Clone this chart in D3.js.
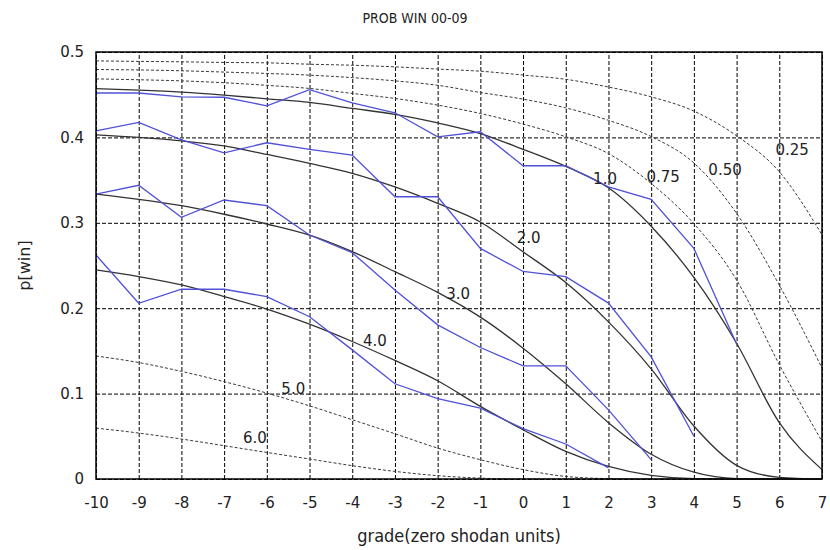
<!DOCTYPE html>
<html>
<head>
<meta charset="utf-8">
<script src="https://cdn.jsdelivr.net/npm/d3@7"></script>
<style>
  body { margin: 0; background: #fff; }
  text { font-family: "DejaVu Sans", sans-serif; fill: #222; }
  .cond { font-family: "DejaVu Sans Condensed", "DejaVu Sans", sans-serif; font-stretch: condensed; }
</style>
</head>
<body>
<div id="chart"></div>
<script>
// grades on the x axis
const grades = [-10, -9, -8, -7, -6, -5, -4, -3, -2, -1, 0, 1, 2, 3, 4, 5, 6, 7];
const yTicks = [0, 0.1, 0.2, 0.3, 0.4, 0.5];

// model curves, read at each grade
const model025 = [0.4896, 0.489, 0.4885, 0.4878, 0.4873, 0.4857, 0.4845, 0.4826, 0.480, 0.4775, 0.473, 0.468, 0.459, 0.4475, 0.4308, 0.4019, 0.3598, 0.286];
const model050 = [0.4795, 0.479, 0.478, 0.4765, 0.4749, 0.4729, 0.470, 0.4662, 0.461, 0.4526, 0.4448, 0.4346, 0.420, 0.401, 0.370, 0.311, 0.227, 0.130];
const model075 = [0.4685, 0.4675, 0.4662, 0.464, 0.461, 0.4573, 0.4515, 0.4456, 0.4378, 0.428, 0.4156, 0.4007, 0.381, 0.346, 0.299, 0.233, 0.134, 0.044];
const model10 = [0.457, 0.4553, 0.453, 0.4495, 0.4452, 0.441, 0.434, 0.427, 0.417, 0.4045, 0.386, 0.366, 0.341, 0.296, 0.236, 0.159, 0.066, 0.011];
const model20 = [0.403, 0.400, 0.396, 0.390, 0.380, 0.3696, 0.358, 0.342, 0.3228, 0.301, 0.266, 0.230, 0.184, 0.129, 0.062, 0.016, 0.002, 0];
const model30 = [0.3337, 0.3275, 0.320, 0.310, 0.2986, 0.2855, 0.2662, 0.2428, 0.2185, 0.1895, 0.1532, 0.1115, 0.066, 0.029, 0.008, 0.0005, 0, 0];
const model40 = [0.2448, 0.237, 0.2272, 0.2136, 0.199, 0.1813, 0.161, 0.1388, 0.115, 0.085, 0.0577, 0.0323, 0.0147, 0.0042, 0.0004, 0, 0, 0];
const model50 = [0.144, 0.1364, 0.126, 0.114, 0.1006, 0.0857, 0.0694, 0.053, 0.0362, 0.0226, 0.011, 0.003, 0.0005, 0, 0, 0, 0, 0];
const model60 = [0.0596, 0.0538, 0.0468, 0.039, 0.0311, 0.0234, 0.0156, 0.0089, 0.0039, 0.001, 0, 0, 0, 0, 0, 0, 0, 0];

// observed win rates (start at grade -10)
const obs10 = [0.452, 0.452, 0.4475, 0.447, 0.437, 0.456, 0.4405, 0.4288, 0.4007, 0.4066, 0.3668, 0.3668, 0.342, 0.3275, 0.270, 0.158];
const obs20 = [0.4077, 0.4175, 0.397, 0.382, 0.3937, 0.386, 0.3793, 0.3305, 0.3305, 0.270, 0.243, 0.237, 0.206, 0.143, 0.050];
const obs30 = [0.3337, 0.3439, 0.3064, 0.3267, 0.320, 0.2857, 0.265, 0.2214, 0.1805, 0.154, 0.1325, 0.1325, 0.081, 0.0226];
const obs40 = [0.2623, 0.2058, 0.2222, 0.2222, 0.2136, 0.190, 0.1512, 0.1115, 0.094, 0.083, 0.059, 0.041, 0.013];

// curve labels: name, grade, value
const curveLabels = [
  ["0.25", 6.3, 0.385], ["0.50", 4.73, 0.362], ["0.75", 3.28, 0.354], ["1.0", 1.92, 0.351],
  ["2.0", 0.13, 0.282], ["3.0", -1.52, 0.217], ["4.0", -3.47, 0.162],
  ["5.0", -5.38, 0.106], ["6.0", -6.28, 0.048]
];

const models = [
  { values: model025, dashed: true }, { values: model050, dashed: true }, { values: model075, dashed: true },
  { values: model10, dashed: false }, { values: model20, dashed: false }, { values: model30, dashed: false },
  { values: model40, dashed: false }, { values: model50, dashed: true }, { values: model60, dashed: true }
];
const observed = [obs10, obs20, obs30, obs40];

const W = 830, H = 550;
const margin = { left: 96, right: 8, top: 52, bottom: 71 };
const w = W - margin.left - margin.right, h = H - margin.top - margin.bottom;

const svg = d3.select('#chart').append('svg')
  .attr('width', W).attr('height', H)
  .attr('xmlns', 'http://www.w3.org/2000/svg');

const x = d3.scaleLinear().domain([-10, 7]).range([0, w]);
const y = d3.scaleLinear().domain([0, 0.5]).range([h, 0]);

const plot = svg.append('g').attr('transform', `translate(${margin.left},${margin.top})`);

// grid + ticks
const xAxis = d3.axisBottom(x).tickValues(grades).tickSize(-h).tickPadding(18).tickFormat(d => String(d));
const yAxis = d3.axisLeft(y).tickValues(yTicks).tickSize(-w).tickPadding(12).tickFormat(d => d === 0 ? '0' : d.toFixed(1));

const gx = plot.append('g').attr('transform', `translate(0,${h})`).call(xAxis);
const gy = plot.append('g').call(yAxis);
[gx, gy].forEach(g => {
  g.select('.domain').remove();
  g.selectAll('line').attr('stroke', '#000').attr('stroke-dasharray', '4,2').attr('stroke-width', 1);
  g.selectAll('text').attr('font-size', 15).attr('fill', '#2a2a2a');
});

// model curves
const line = d3.line().x((d, i) => x(grades[i])).y(d => y(d)).curve(d3.curveMonotoneX);
plot.selectAll('path.model')
  .data(models)
  .enter().append('path')
    .attr('class', 'model')
    .attr('fill', 'none')
    .attr('stroke', d => d.dashed ? '#3a3a3a' : '#333')
    .attr('stroke-width', d => d.dashed ? 1 : 1.3)
    .attr('stroke-dasharray', d => d.dashed ? '3,2' : null)
    .attr('d', d => line(d.values));

// observed lines
const obsLine = d3.line().x((d, i) => x(grades[i])).y(d => y(d));
plot.selectAll('path.obs')
  .data(observed)
  .enter().append('path')
    .attr('class', 'obs')
    .attr('fill', 'none')
    .attr('stroke', '#5050d8')
    .attr('stroke-width', 1.3)
    .attr('d', d => obsLine(d));

// labels on curves
plot.selectAll('text.clabel')
  .data(curveLabels)
  .enter().append('text')
    .attr('class', 'clabel')
    .attr('x', d => x(d[1]))
    .attr('y', d => y(d[2]))
    .attr('dy', '0.35em')
    .attr('text-anchor', 'middle')
    .attr('font-size', 15)
    .text(d => d[0]);

// border
plot.append('rect')
  .attr('width', w).attr('height', h)
  .attr('fill', 'none').attr('stroke', '#000').attr('stroke-width', 1.5);

// titles
svg.append('text')
  .attr('class', 'cond')
  .attr('x', 415).attr('y', 23)
  .attr('text-anchor', 'middle').attr('font-size', 14)
  .text('PROB WIN 00-09');

svg.append('text')
  .attr('class', 'cond')
  .attr('x', margin.left + w / 2).attr('y', 542)
  .attr('text-anchor', 'middle').attr('font-size', 18)
  .text('grade(zero shodan units)');

svg.append('text')
  .attr('transform', `translate(30,${margin.top + h / 2}) rotate(-90)`)
  .attr('text-anchor', 'middle').attr('font-size', 16)
  .text('p[win]');
</script>
</body>
</html>
